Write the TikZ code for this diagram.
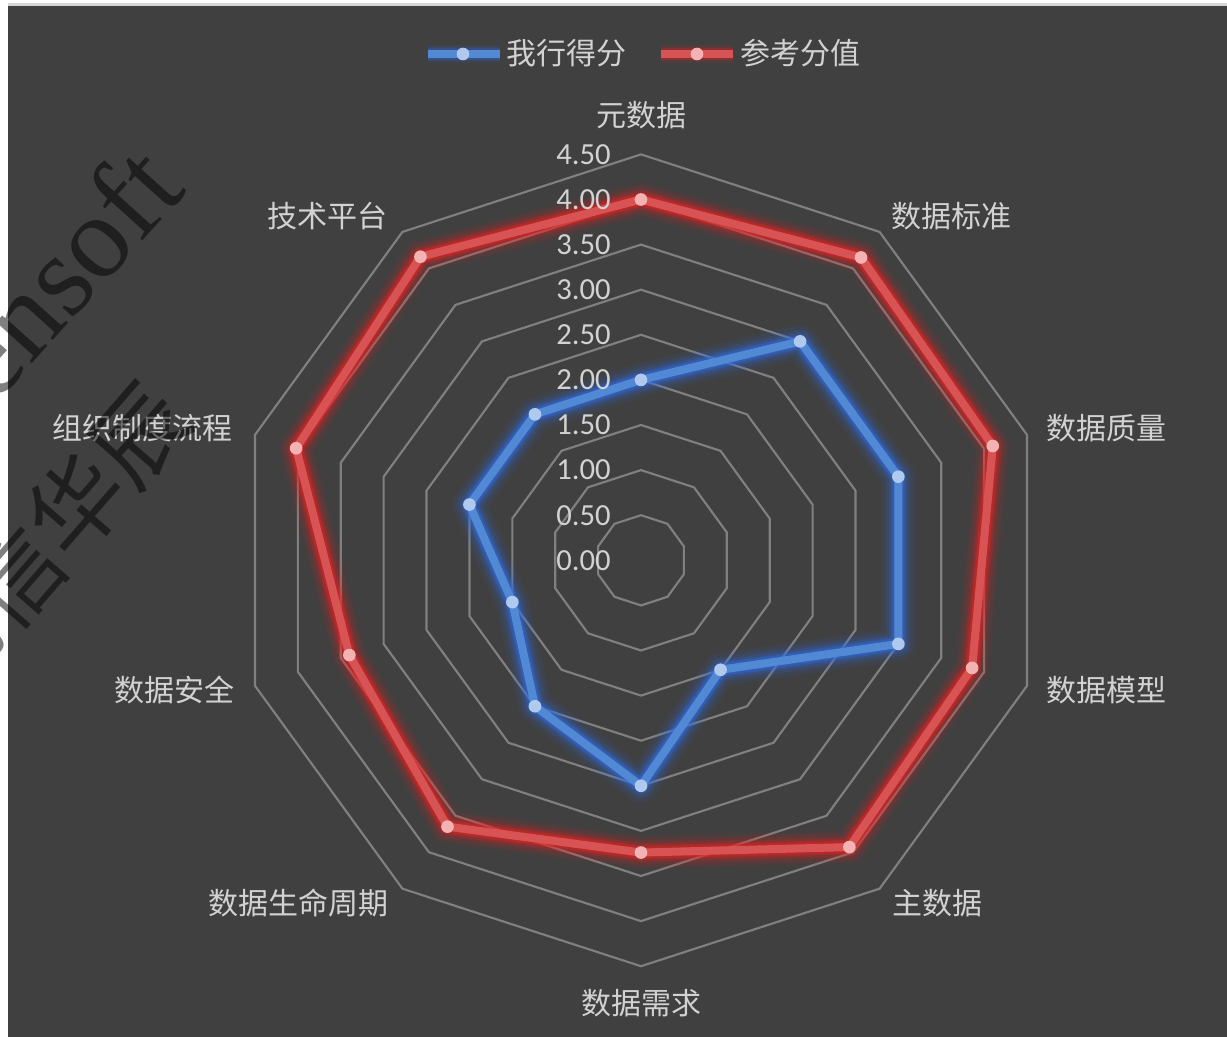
\documentclass[tikz,border=0pt]{standalone}
\usepackage{fontspec}
\setmainfont{Carlito}
\newfontfamily\cjk{Noto Sans CJK SC}
\newfontfamily\wmfont{Liberation Serif}
\definecolor{bgdark}{HTML}{404040}
\definecolor{topline}{HTML}{D6D6D6}
\definecolor{gridgray}{HTML}{808080}
\definecolor{labelgray}{HTML}{D2D2D2}
\definecolor{blueline}{HTML}{5289D4}
\definecolor{blueglow}{HTML}{2E6CE8}
\definecolor{bluemark}{HTML}{AFC9EF}
\definecolor{redline}{HTML}{D85454}
\definecolor{redglow}{HTML}{F02020}
\definecolor{redmark}{HTML}{F4B3B3}
\begin{document}
\begin{tikzpicture}[x=0.75pt,y=-0.75pt,
  catlabel/.style={font=\cjk\fontsize{22.5}{24}\selectfont, text=labelgray, inner sep=0pt},
  vallabel/.style={font=\fontsize{23}{24}\selectfont, text=labelgray, anchor=east, inner sep=0pt},
  ring/.style={draw=gridgray, line width=1.6pt, line join=miter},
  blueseries/.style={draw=blueline, line width=6pt, line join=round, line cap=round},
  redseries/.style={draw=redline, line width=6pt, line join=round, line cap=round},
  bluedot/.style={circle, fill=bluemark, inner sep=0pt, minimum size=9.5pt},
  reddot/.style={circle, fill=redmark, inner sep=0pt, minimum size=9.5pt},
  watermark/.style={text=black, text opacity=0.5, inner sep=0pt},
]
\useasboundingbox (0,0) rectangle (1227,1037);
% background
\fill[white] (0,0) rectangle (1227,1037);
\fill[topline] (8,3) rectangle (1227,6);
\fill[bgdark] (8,6) rectangle (1227,1037);

\begin{scope}[shift={(641,560.3)}]
  % grid rings
  \foreach \k in {1,...,9} {
    \draw[ring] (-90:{45.1*\k}) \foreach \i in {1,...,9} { -- ({-90+36*\i}:{45.1*\k}) } -- cycle;
  }
  % data points
  \foreach \v [count=\i from 0] in {2,3,3,3,1.5,2.5,2,1.5,2,2} {
    \coordinate (b\i) at ({-90+36*\i}:{90.2*\v});
  }
  \foreach \v [count=\i from 0] in {4.0,4.15,4.10,3.86,3.93,3.24,3.65,3.40,4.02,4.16} {
    \coordinate (r\i) at ({-90+36*\i}:{90.2*\v});
  }
\end{scope}

% glow
\foreach \w/\o in {26/0.05, 22/0.08, 18/0.12, 14/0.18, 11/0.26, 9/0.34} {
  \draw[draw=redglow, opacity=\o, line width=\w pt, line join=round]
    (r0) -- (r1) -- (r2) -- (r3) -- (r4) -- (r5) -- (r6) -- (r7) -- (r8) -- (r9) -- cycle;
  \draw[draw=blueglow, opacity=\o, line width=\w pt, line join=round]
    (b0) -- (b1) -- (b2) -- (b3) -- (b4) -- (b5) -- (b6) -- (b7) -- (b8) -- (b9) -- cycle;
}
% series lines
\draw[redseries] (r0) -- (r1) -- (r2) -- (r3) -- (r4) -- (r5) -- (r6) -- (r7) -- (r8) -- (r9) -- cycle;
\draw[blueseries] (b0) -- (b1) -- (b2) -- (b3) -- (b4) -- (b5) -- (b6) -- (b7) -- (b8) -- (b9) -- cycle;
% markers
\foreach \i in {0,...,9} {
  \node[reddot] (rm\i) at (r\i) {};
  \node[bluedot] (bm\i) at (b\i) {};
}

% value labels
\foreach \v/\t in {0/0.00, 0.5/0.50, 1/1.00, 1.5/1.50, 2/2.00, 2.5/2.50, 3/3.00, 3.5/3.50, 4/4.00, 4.5/4.50} {
  \node[vallabel] (v\t) at (611, {560.3-90.2*\v}) {\t};
}

% category labels
\node[catlabel] (c0) at (641,115) {元数据};
\node[catlabel] (c1) at (951,216) {数据标准};
\node[catlabel] (c2) at (1106,428) {数据质量};
\node[catlabel] (c3) at (1106,690) {数据模型};
\node[catlabel] (c4) at (937,903) {主数据};
\node[catlabel] (c5) at (641,1003) {数据需求};
\node[catlabel] (c6) at (298,903) {数据生命周期};
\node[catlabel] (c7) at (174,690) {数据安全};
\node[catlabel] (c8) at (142,428) {组织制度流程};
\node[catlabel] (c9) at (327,216) {技术平台};

% legend
\coordinate (lb1) at (428,54); \coordinate (lb2) at (500,54);
\coordinate (lr1) at (661,54); \coordinate (lr2) at (733,54);
\foreach \w/\o in {14/0.08, 11/0.14, 9/0.22} {
  \draw[draw=blueglow, opacity=\o, line width=\w pt] (lb1) -- (lb2);
  \draw[draw=redglow, opacity=\o, line width=\w pt] (lr1) -- (lr2);
}
\draw[blueseries, line cap=butt] (lb1) -- (lb2);
\draw[redseries, line cap=butt] (lr1) -- (lr2);
\node[bluedot] (lbm) at (463,54) {};
\node[reddot] (lrm) at (697,54) {};
\node[catlabel, anchor=west] (lbt) at (506,53) {我行得分};
\node[catlabel, anchor=west] (lrt) at (740,53) {参考分值};

% watermark
\begin{scope}
  \clip (0,0) rectangle (1227,1037);
  \node[watermark, font=\wmfont\fontsize{88}{88}\selectfont, rotate=48, anchor=base east] (wm1) at (188,191) {Esensoft};
  \node[watermark, font=\cjk\fontsize{71}{71}\selectfont, rotate=49, anchor=east] (wm2) at (170,398) {亿信华辰};
\end{scope}
\end{tikzpicture}
\end{document}
